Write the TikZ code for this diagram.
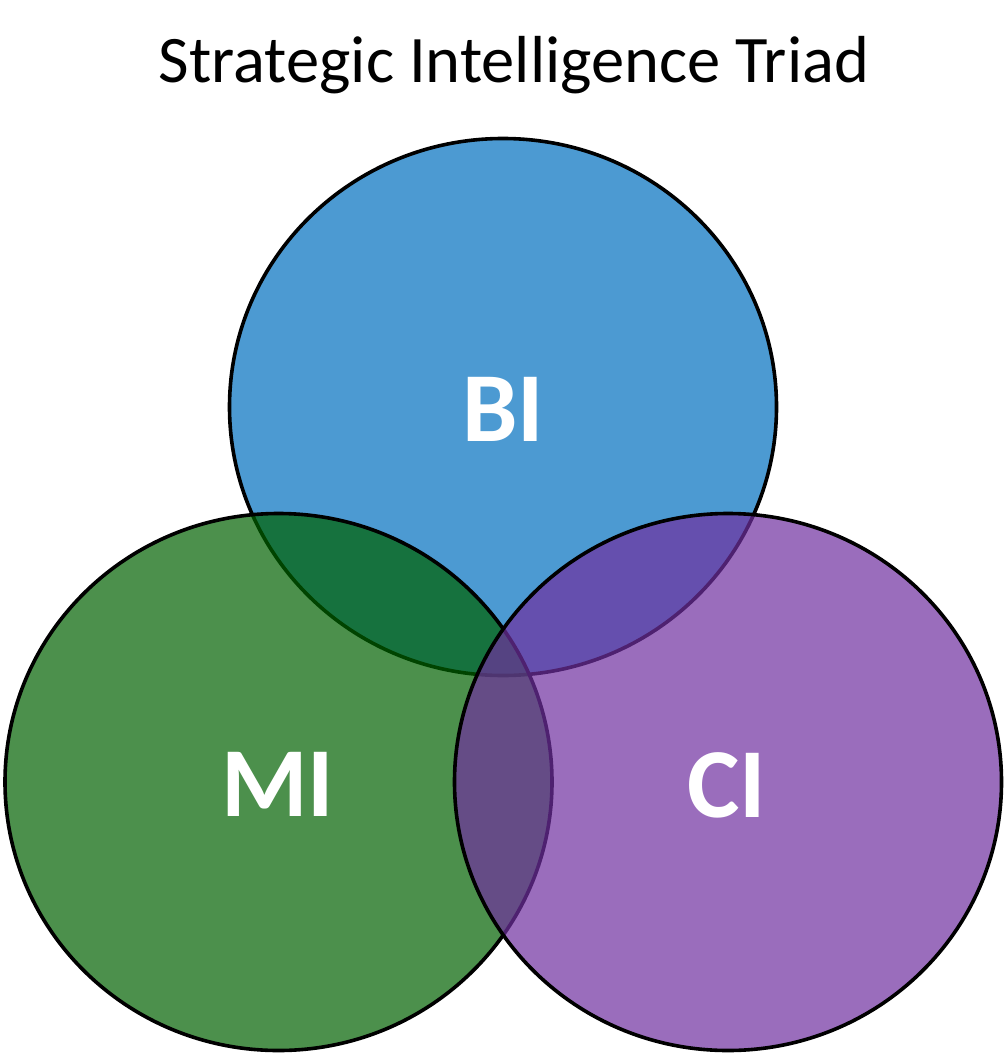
\documentclass[tikz,border=0pt]{standalone}
\usepackage{fontspec}
\setmainfont{Carlito}
\definecolor{biblue}{HTML}{0070C0}
\definecolor{migreen}{RGB}{0,98,0}
\definecolor{cipurple}{HTML}{7030A0}
\begin{document}
\begin{tikzpicture}[x=1pt,y=-1pt,
  venn/.style={draw=black,line width=3.6pt,fill opacity=0.7},
  lbl/.style={text=white,font=\fontsize{99}{99}\selectfont\bfseries,inner sep=0pt,anchor=base}]
\useasboundingbox (0,0) rectangle (1006,1054);
\fill[white] (0,0) rectangle (1006,1054);
\node[inner sep=0pt,anchor=base,font=\fontsize{66.5}{66.5}\selectfont] (title) at (514,83) {Strategic Intelligence Triad};
\path[venn,fill=biblue] (503,407) ellipse [x radius=273.5,y radius=268.5];
\path[venn,fill=migreen] (278.5,782) ellipse [x radius=273.5,y radius=268.5];
\path[venn,fill=cipurple] (728,782) ellipse [x radius=273.5,y radius=268.5];
\node[lbl] (bi) at (503,441) {BI};
\node[lbl] (mi) at (277.5,816) {MI};
\node[lbl] (ci) at (727,817) {CI};
\end{tikzpicture}
\end{document}
